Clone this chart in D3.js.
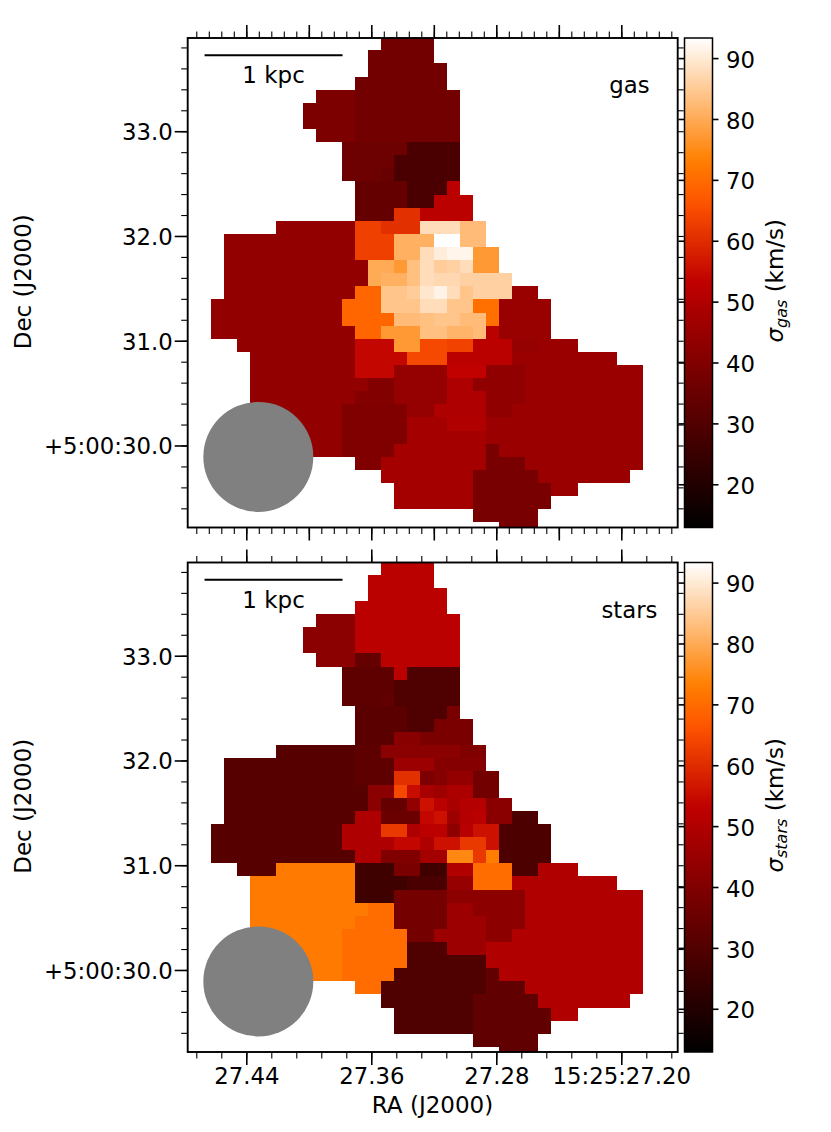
<!DOCTYPE html>
<html>
<head>
<meta charset="utf-8">
<title>Gas and stellar velocity dispersion maps</title>
<script src="https://cdn.jsdelivr.net/npm/d3@7/dist/d3.min.js"></script>
<style>
  body { margin: 0; background: #fff; }
  svg { display: block; }
  text { font-family: "DejaVu Sans", sans-serif; fill: #000; }
  .tick text { font-size: 22.8px; font-family: "DejaVu Sans", sans-serif; fill: #000; }
  .tick line { stroke: #000; }
  .domain { display: none; }
</style>
</head>
<body>
<div id="chart"></div>
<script>
// sigma maps, one entry per spaxel row, top to bottom:
// [first column, run length, sigma, run length, sigma, ...]
const gasRows = [
  [13, 4, 36.9],
  [12, 5, 36.9],
  [12, 6, 36.9],
  [11, 7, 36.9],
  [8, 3, 39.2, 8, 36.9],
  [7, 4, 39.2, 8, 36.9],
  [7, 4, 39.2, 8, 36.9],
  [8, 3, 39.2, 8, 36.9],
  [10, 5, 35.8, 4, 28.5],
  [10, 4, 35.8, 5, 28.5],
  [10, 3, 35.8, 1, 34.5, 5, 28.5],
  [11, 4, 34.1, 3, 28.5, 1, 52.2],
  [11, 4, 34.1, 2, 28.5, 3, 52.2],
  [11, 3, 34.1, 2, 60.7, 4, 52.2],
  [5, 6, 43.6, 2, 63.2, 3, 60.7, 3, 87.9, 2, 82.6],
  [1, 10, 43.6, 3, 63.2, 3, 80.8, 2, 93.3, 2, 82.6],
  [1, 10, 43.6, 3, 63.2, 2, 80.8, 1, 87.9, 1, 90.5, 2, 91.7, 2, 77.2],
  [1, 11, 43.6, 2, 79.9, 1, 77.2, 1, 83.3, 1, 87.9, 1, 85.3, 1, 85.9, 1, 87.9, 2, 77.2],
  [1, 11, 43.6, 1, 79.9, 2, 80.8, 1, 83.3, 1, 87.9, 2, 87.2, 4, 85.9],
  [1, 10, 43.6, 2, 69.2, 2, 84.1, 1, 85.3, 1, 89.4, 1, 91.3, 1, 87.9, 1, 84.1, 3, 85.9, 2, 45.1],
  [0, 10, 43.6, 3, 69.2, 3, 84.1, 2, 87.9, 2, 84.1, 2, 70.8, 4, 45.1],
  [0, 10, 43.6, 4, 69.2, 2, 82.6, 1, 83.3, 2, 84.1, 2, 82.6, 1, 70.8, 4, 45.1],
  [0, 11, 43.6, 2, 69.2, 3, 77.2, 2, 83.3, 2, 81.5, 1, 82.6, 1, 52.2, 4, 45.1],
  [2, 9, 43.6, 3, 54.1, 2, 77.2, 2, 64.4, 2, 63.5, 3, 52.2, 2, 44.2, 3, 45.5],
  [3, 8, 43.6, 4, 54.1, 3, 64.4, 5, 52.2, 8, 45.5],
  [3, 8, 43.6, 3, 54.1, 4, 44.2, 3, 53.3, 3, 43.2, 9, 45.5],
  [3, 9, 43.6, 2, 40.4, 4, 44.2, 2, 49.5, 4, 43.2, 9, 45.5],
  [3, 8, 43.6, 3, 40.4, 4, 44.2, 3, 49.5, 3, 43.2, 9, 45.5],
  [3, 7, 43.6, 5, 39.8, 2, 44.2, 4, 49.5, 2, 43.2, 10, 45.5],
  [3, 7, 43.6, 5, 39.8, 3, 47.6, 3, 49.9, 12, 45.5],
  [3, 7, 43.6, 5, 39.8, 6, 47.6, 12, 45.5],
  [3, 7, 43.6, 4, 39.8, 7, 47.6, 1, 38.1, 11, 45.5],
  [11, 2, 39.8, 8, 47.6, 3, 38.1, 9, 45.5],
  [13, 7, 47.6, 5, 38.1, 7, 45.5],
  [14, 6, 47.6, 6, 38.1, 2, 45.5],
  [14, 6, 47.6, 6, 38.1],
  [20, 5, 38.1],
  [22, 3, 38.1]
];

const starRows = [
  [13, 4, 52.2],
  [12, 5, 52.2],
  [12, 6, 52.2],
  [11, 7, 52.2],
  [8, 3, 42.1, 8, 52.2],
  [7, 4, 42.1, 8, 52.2],
  [7, 4, 42.1, 8, 52.2],
  [8, 3, 42.1, 2, 34.1, 6, 52.2],
  [10, 4, 32.9, 1, 52.2, 4, 29.5],
  [10, 4, 32.9, 5, 29.5],
  [10, 3, 32.9, 1, 33.3, 5, 29.5],
  [11, 4, 31.8, 3, 29.5, 1, 38.1],
  [11, 4, 31.8, 2, 29.5, 3, 38.5],
  [11, 3, 31.8, 2, 41.5, 4, 38.5],
  [5, 6, 31, 2, 32.9, 6, 42.1, 2, 39.8],
  [1, 10, 31, 3, 32.9, 3, 45.7, 4, 40.9],
  [1, 10, 31, 3, 32.9, 2, 60.7, 1, 38.9, 1, 40.9, 2, 44, 2, 36.9],
  [1, 11, 31, 2, 42.1, 1, 64.4, 1, 55, 1, 48.2, 1, 46.1, 2, 49, 2, 36.9],
  [1, 11, 31, 1, 42.1, 2, 34, 1, 43.6, 1, 55.8, 1, 52.2, 1, 48.2, 2, 50.7, 2, 42],
  [1, 10, 31, 2, 49.5, 3, 35.2, 1, 54.1, 1, 55.8, 1, 46.1, 1, 50.7, 1, 52.2, 2, 42, 2, 28.9],
  [0, 10, 31, 3, 49.5, 2, 61.9, 1, 49.5, 2, 52.2, 1, 42.7, 1, 51.6, 2, 55.8, 4, 28.9],
  [0, 10, 31, 4, 49.5, 2, 54.1, 1, 49.5, 2, 55.8, 2, 61.9, 1, 55.8, 4, 28.9],
  [0, 11, 31, 2, 49.5, 3, 39.8, 2, 47.4, 2, 74.6, 1, 61.9, 1, 72.8, 4, 28.9],
  [2, 3, 31, 6, 72.3, 3, 26.1, 2, 38.5, 2, 26.1, 2, 49.9, 3, 70.1, 2, 28.9, 3, 49.9],
  [3, 8, 72.3, 4, 26.1, 3, 28.5, 2, 44.4, 3, 70.1, 8, 49.9],
  [3, 8, 72.3, 3, 26.1, 4, 37.5, 6, 42.3, 9, 49.9],
  [3, 9, 72.3, 2, 70.1, 4, 37.5, 2, 45.7, 4, 42.3, 9, 49.9],
  [3, 8, 72.3, 3, 70.1, 4, 37.5, 3, 45.7, 3, 42.3, 9, 49.9],
  [3, 7, 72.3, 5, 70.1, 2, 37.5, 4, 45.7, 2, 42.3, 10, 49.9],
  [3, 7, 72.3, 5, 70.1, 3, 29.5, 3, 45.7, 12, 49.9],
  [3, 7, 72.3, 5, 70.1, 6, 29.5, 12, 49.9],
  [3, 7, 72.3, 4, 70.1, 7, 29.5, 1, 33.1, 11, 49.9],
  [11, 2, 70.1, 8, 29.5, 3, 33.1, 9, 49.9],
  [13, 7, 29.5, 5, 33.1, 7, 49.9],
  [14, 6, 29.5, 6, 33.1, 2, 49.9],
  [14, 6, 29.5, 6, 33.1],
  [20, 5, 33.1],
  [22, 3, 33.1]
];

// axis ticks and labels
const raMajorGas = [27.44, 27.40, 27.36, 27.32, 27.28, 27.24, 27.20];
const raMajorStars = [27.44, 27.36, 27.28, 27.20];
const raLabels = ['27.44', '27.36', '27.28', '15:25:27.20'];
const decMajor = [33, 32, 31, 30];
const decLabels = ['33.0', '32.0', '31.0', '+5:00:30.0'];
const sigmaTicks = [20, 30, 40, 50, 60, 70, 80, 90];

// sky frame of both panels (RA seconds, Dec arcsec past 5:00)
const RA_DOMAIN = [27.4775, 27.1639];
const DEC_DOMAIN = [33.89, 29.217];
const SIGMA_DOMAIN = [12.9, 93.3];
const MAP_RA0 = 27.4626;
const MAP_DEC0 = 33.898;
const SPAXEL_RA = 0.00838;
const SPAXEL_DEC = 0.1252;
const BEAM = {ra: 27.4323, dec: 29.891, radius: 0.525};
const SCALE_BAR = {ra: [27.4667, 27.3784], dec: 33.726};

const WIDTH = 831;
const HEIGHT = 1132;
const PANEL_X = 187.7;
const PANEL_W = 490;
const PANEL_H = 489.5;
const CBAR_X = 684.5;
const CBAR_W = 28;

const svg = d3.select('#chart').append('svg')
  .attr('width', WIDTH)
  .attr('height', HEIGHT);

const defs = svg.append('defs');

const x = d3.scaleLinear().domain(RA_DOMAIN).range([0, PANEL_W]);
const y = d3.scaleLinear().domain(DEC_DOMAIN).range([0, PANEL_H]);
const sigmaY = d3.scaleLinear().domain(SIGMA_DOMAIN).range([PANEL_H, 0]);
const sigmaT = d3.scaleLinear().domain(SIGMA_DOMAIN).range([0, 1]);

// gist_heat colour map
function gistHeat(t) {
  const clip = v => Math.round(255 * Math.max(0, Math.min(1, v)));
  return d3.rgb(clip(1.5 * t), clip(2 * t - 1), clip(4 * t - 3)).formatHex();
}
const sigmaColor = v => gistHeat(sigmaT(v));

// expand the run lengths into one record per spaxel
function expandRows(rows) {
  const cells = [];
  rows.forEach((row, r) => {
    let col = row[0];
    for (let i = 1; i < row.length; i += 2) {
      for (let n = 0; n < row[i]; n++) {
        cells.push({col: col, row: r, sigma: row[i + 1]});
        col++;
      }
    }
  });
  return cells;
}

function tickRange(start, stop, step) {
  const n = Math.round((stop - start) / step);
  return d3.range(n + 1).map(i => +(start + i * step).toFixed(3));
}

// tick positions kept inside the frame
const decMinor = tickRange(29.4, 33.8, 0.2);
const raMinorGas = tickRange(27.168, 27.472, 0.008);
const raMinorStars = tickRange(27.168, 27.472, 0.016);

function addAxis(g, axis, transform, width) {
  const a = g.append('g').attr('transform', transform).call(axis);
  a.selectAll('.tick line').attr('stroke-width', width);
  return a;
}

function drawPanel(top, rows, name, subscript, raMajor, raMinor, showX) {
  const panel = svg.append('g').attr('transform', 'translate(' + PANEL_X + ',' + top + ')');
  const clipId = 'clip-' + name;

  defs.append('clipPath').attr('id', clipId)
    .append('rect').attr('width', PANEL_W).attr('height', PANEL_H);

  const map = panel.append('g').attr('clip-path', 'url(#' + clipId + ')');

  map.selectAll('rect.spaxel').data(expandRows(rows))
    .enter()
    .append('rect')
    .classed('spaxel', true)
    .attr('x', d => x(MAP_RA0 - d.col * SPAXEL_RA))
    .attr('y', d => y(MAP_DEC0 - d.row * SPAXEL_DEC))
    .attr('width', x(MAP_RA0 - SPAXEL_RA) - x(MAP_RA0))
    .attr('height', y(MAP_DEC0 - SPAXEL_DEC) - y(MAP_DEC0))
    .attr('fill', d => sigmaColor(d.sigma))
    .attr('shape-rendering', 'crispEdges');

  // beam
  map.append('circle')
    .attr('cx', x(BEAM.ra))
    .attr('cy', y(BEAM.dec))
    .attr('r', y(DEC_DOMAIN[0] - BEAM.radius) - y(DEC_DOMAIN[0]))
    .attr('fill', '#808080');

  // ticks on all four sides, minor first
  const none = () => '';
  addAxis(panel, d3.axisBottom(x).tickValues(raMinor).tickSize(6.5).tickFormat(none), 'translate(0,' + PANEL_H + ')', 1.1);
  addAxis(panel, d3.axisTop(x).tickValues(raMinor).tickSize(6.5).tickFormat(none), 'translate(0,0)', 1.1);
  addAxis(panel, d3.axisTop(x).tickValues(raMajor).tickSize(13).tickFormat(none), 'translate(0,0)', 1.6);
  const bottom = addAxis(panel, d3.axisBottom(x).tickValues(raMajor).tickSize(13).tickPadding(2.5)
    .tickFormat(d => showX ? raLabels[raMajorStars.indexOf(d)] : ''), 'translate(0,' + PANEL_H + ')', 1.6);
  bottom.selectAll('text').attr('text-anchor', 'middle');

  addAxis(panel, d3.axisLeft(y).tickValues(decMinor).tickSize(6.5).tickFormat(none), 'translate(0,0)', 1.1);
  addAxis(panel, d3.axisRight(y).tickValues(decMinor).tickSize(6.5).tickFormat(none), 'translate(' + PANEL_W + ',0)', 1.1);
  addAxis(panel, d3.axisLeft(y).tickValues(decMajor).tickSize(13).tickPadding(2)
    .tickFormat((d, i) => decLabels[i]), 'translate(0,0)', 1.6)
    .selectAll('text').attr('dy', '0.37em');

  panel.append('rect')
    .attr('width', PANEL_W)
    .attr('height', PANEL_H)
    .attr('fill', 'none')
    .attr('stroke', '#000')
    .attr('stroke-width', 1.9);

  // scale bar
  panel.append('line')
    .attr('x1', x(SCALE_BAR.ra[0]))
    .attr('x2', x(SCALE_BAR.ra[1]))
    .attr('y1', y(SCALE_BAR.dec))
    .attr('y2', y(SCALE_BAR.dec))
    .attr('stroke', '#000')
    .attr('stroke-width', 1.9);

  panel.append('text')
    .attr('x', (x(SCALE_BAR.ra[0]) + x(SCALE_BAR.ra[1])) / 2)
    .attr('y', 45)
    .attr('text-anchor', 'middle')
    .attr('font-size', 23)
    .text('1 kpc');

  panel.append('text')
    .attr('x', 629.5 - PANEL_X)
    .attr('y', 55)
    .attr('text-anchor', 'middle')
    .attr('font-size', 22.8)
    .text(name);

  panel.append('text')
    .attr('transform', 'translate(' + (31 - PANEL_X) + ',' + (PANEL_H / 2 - 1) + ') rotate(-90)')
    .attr('text-anchor', 'middle')
    .attr('font-size', 23)
    .text('Dec (J2000)');

  // colour bar
  const bar = panel.append('g').attr('transform', 'translate(' + (CBAR_X - PANEL_X) + ',0)');
  const gradId = 'heat-' + name;
  const stops = defs.append('linearGradient').attr('id', gradId)
    .attr('x1', 0).attr('y1', 1).attr('x2', 0).attr('y2', 0);
  stops.selectAll('stop').data(d3.range(0, 1.0001, 0.02))
    .enter()
    .append('stop')
    .attr('offset', d => d)
    .attr('stop-color', d => gistHeat(d));

  bar.append('rect')
    .attr('x', -0.8)
    .attr('y', -1)
    .attr('width', CBAR_W + 1.6)
    .attr('height', PANEL_H + 2)
    .attr('fill', '#fff');

  addAxis(bar, d3.axisLeft(sigmaY).tickValues(sigmaTicks).tickSize(6).tickFormat(none), 'translate(0,0)', 1.6);
  addAxis(bar, d3.axisRight(sigmaY).tickValues(sigmaTicks).tickSize(6).tickPadding(7.5), 'translate(' + CBAR_W + ',0)', 1.6)
    .selectAll('text').attr('dy', '0.4em');

  bar.append('rect')
    .attr('width', CBAR_W)
    .attr('height', PANEL_H)
    .attr('fill', 'url(#' + gradId + ')')
    .attr('stroke', '#000')
    .attr('stroke-width', 1.5);

  const label = panel.append('text')
    .attr('transform', 'translate(' + (783 - PANEL_X) + ',' + (PANEL_H / 2 - 2) + ') rotate(-90)')
    .attr('text-anchor', 'middle')
    .attr('font-size', 23);
  label.append('tspan').attr('font-style', 'italic').text('\u03c3');
  label.append('tspan').attr('font-style', 'italic').attr('font-size', 16).attr('dy', 4).text(subscript);
  label.append('tspan').attr('dy', -4).text(' (km/s)');
}

drawPanel(38, gasRows, 'gas', 'gas', raMajorGas, raMinorGas, false);
drawPanel(562.5, starRows, 'stars', 'stars', raMajorStars, raMinorStars, true);

svg.append('text')
  .attr('x', 432.5)
  .attr('y', 1113)
  .attr('text-anchor', 'middle')
  .attr('font-size', 23)
  .text('RA (J2000)');
</script>
</body>
</html>
